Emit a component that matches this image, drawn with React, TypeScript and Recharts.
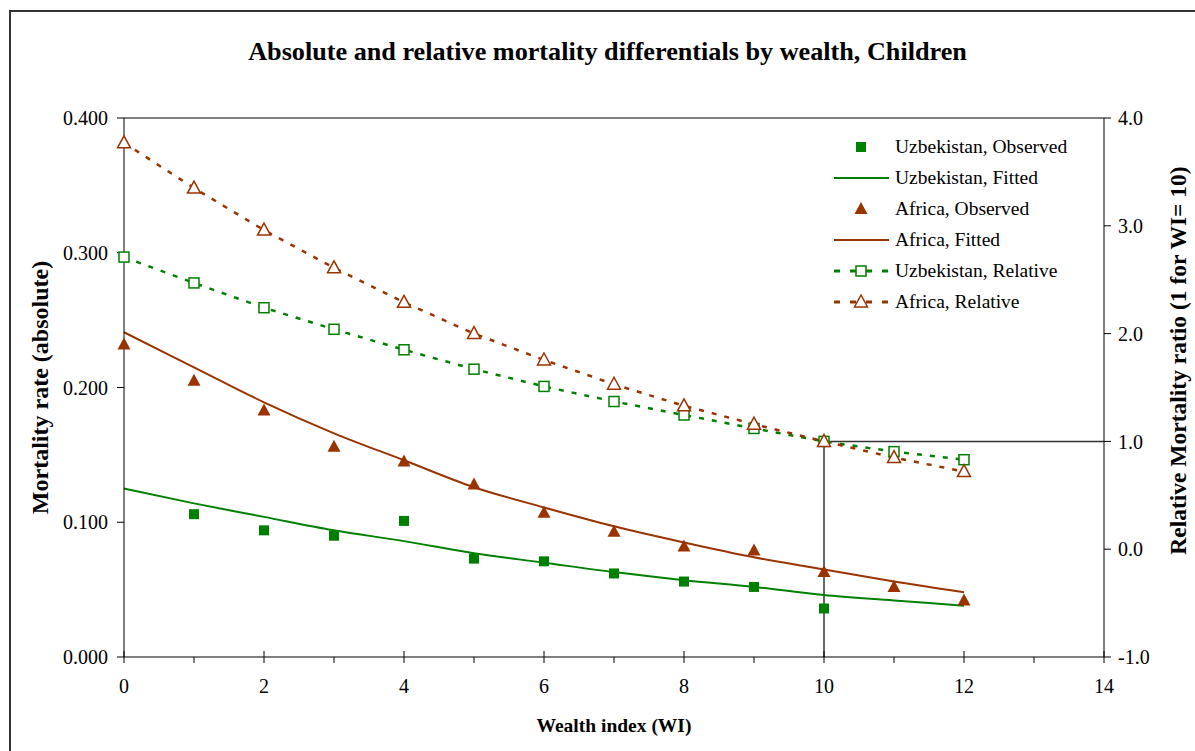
import { ComposedChart, Line, XAxis, YAxis, ReferenceLine, Legend } from "recharts";

const wealthIndex = [0, 1, 2, 3, 4, 5, 6, 7, 8, 9, 10, 11, 12];
const uzbObserved = [null, 0.106, 0.094, 0.09, 0.101, 0.073, 0.071, 0.062, 0.056, 0.052, 0.036, null, null];
const uzbFitted = [0.125, 0.114, 0.104, 0.094, 0.086, 0.077, 0.07, 0.063, 0.057, 0.052, 0.046, 0.042, 0.038];
const afrObserved = [0.232, 0.205, 0.183, 0.156, 0.145, 0.128, 0.107, 0.093, 0.082, 0.079, 0.063, 0.052, 0.042];
const afrFitted = [0.241, 0.215, 0.189, 0.166, 0.146, 0.126, 0.111, 0.097, 0.085, 0.074, 0.065, 0.056, 0.048];
const uzbRelative = [2.71, 2.47, 2.24, 2.04, 1.85, 1.67, 1.51, 1.37, 1.245, 1.12, 1.0, 0.905, 0.83];
const afrRelative = [3.77, 3.35, 2.96, 2.61, 2.29, 2.0, 1.755, 1.53, 1.33, 1.16, 1.0, 0.85, 0.72];

const xTicks = [0, 1, 2, 3, 4, 5, 6, 7, 8, 9, 10, 11, 12, 13, 14];
const leftTicks = [0, 0.1, 0.2, 0.3, 0.4];
const rightTicks = [-1, 0, 1, 2, 3, 4];

const GREEN = "#008000";
const BROWN = "#993300";
const FONT = "'Liberation Serif', 'Times New Roman', serif";

const data = wealthIndex.map((wi, i) => ({
  wi,
  uzbObs: uzbObserved[i],
  uzbFit: uzbFitted[i],
  afrObs: afrObserved[i],
  afrFit: afrFitted[i],
  uzbRel: uzbRelative[i],
  afrRel: afrRelative[i],
}));

const ok = (p: any) => p && typeof p.cx === "number" && typeof p.cy === "number" && p.value != null;

const FilledSquare = (p: any) =>
  ok(p) ? <rect key={p.index} x={p.cx - 5} y={p.cy - 5} width={10} height={10} fill={GREEN} /> : <g key={p.index} />;
const FilledTriangle = (p: any) =>
  ok(p) ? (
    <path key={p.index} d={`M${p.cx},${p.cy - 7} L${p.cx + 6.5},${p.cy + 5} L${p.cx - 6.5},${p.cy + 5} Z`} fill={BROWN} />
  ) : (
    <g key={p.index} />
  );
const OpenSquare = (p: any) =>
  ok(p) ? (
    <rect key={p.index} x={p.cx - 5} y={p.cy - 5} width={10} height={10} fill="#fff" stroke={GREEN} strokeWidth={1.5} />
  ) : (
    <g key={p.index} />
  );
const OpenTriangle = (p: any) =>
  ok(p) ? (
    <path
      key={p.index}
      d={`M${p.cx},${p.cy - 7} L${p.cx + 6.5},${p.cy + 5} L${p.cx - 6.5},${p.cy + 5} Z`}
      fill="#fff"
      stroke={BROWN}
      strokeWidth={1.5}
    />
  ) : (
    <g key={p.index} />
  );

// x axis: minor ticks at odd values, crossing major ticks + labels at even values
const XTick = (props: any) => {
  const { x, y, payload } = props;
  const v = payload.value;
  const major = v % 2 === 0;
  return (
    <g>
      <line x1={x} x2={x} y1={major ? y - 6 : y} y2={y + 6} stroke="#000" strokeWidth={1} />
      {major && (
        <text x={x} y={y + 36} textAnchor="middle" fontSize={20} fill="#000" fontFamily={FONT}>
          {v}
        </text>
      )}
    </g>
  );
};

// rotated axis titles
const axisTitle = (text: string, dxFromLeft: number, dyFromMid: number, size: number) => (props: any) => {
  const vb = props.viewBox || {};
  const cx = vb.x + dxFromLeft;
  const cy = vb.y + vb.height / 2 + dyFromMid;
  return (
    <text
      x={cx}
      y={cy}
      transform={`rotate(-90, ${cx}, ${cy})`}
      textAnchor="middle"
      dominantBaseline="central"
      fontWeight="bold"
      fontSize={size}
      fill="#000"
      fontFamily={FONT}
    >
      {text}
    </text>
  );
};

const legendRows = [
  { label: "Uzbekistan, Observed", kind: "square" },
  { label: "Uzbekistan, Fitted", kind: "greenLine" },
  { label: "Africa, Observed", kind: "triangle" },
  { label: "Africa, Fitted", kind: "brownLine" },
  { label: "Uzbekistan, Relative", kind: "greenRel" },
  { label: "Africa, Relative", kind: "brownRel" },
];

const LegendIcon = ({ kind }: { kind: string }) => {
  const c = 27;
  const m = 10;
  switch (kind) {
    case "square":
      return <rect x={c - 5} y={m - 5} width={10} height={10} fill={GREEN} />;
    case "greenLine":
      return <line x1={0} x2={55} y1={m} y2={m} stroke={GREEN} strokeWidth={2} />;
    case "triangle":
      return <path d={`M${c},${m - 7} L${c + 6.5},${m + 5} L${c - 6.5},${m + 5} Z`} fill={BROWN} />;
    case "brownLine":
      return <line x1={0} x2={55} y1={m} y2={m} stroke={BROWN} strokeWidth={2} />;
    case "greenRel":
      return (
        <g>
          <line x1={0} x2={55} y1={m} y2={m} stroke={GREEN} strokeWidth={3} strokeDasharray="6 10" />
          <rect x={c - 5} y={m - 5} width={10} height={10} fill="#fff" stroke={GREEN} strokeWidth={1.5} />
        </g>
      );
    default:
      return (
        <g>
          <line x1={0} x2={55} y1={m} y2={m} stroke={BROWN} strokeWidth={3} strokeDasharray="6 10" />
          <path
            d={`M${c},${m - 7} L${c + 6.5},${m + 5} L${c - 6.5},${m + 5} Z`}
            fill="#fff"
            stroke={BROWN}
            strokeWidth={1.5}
          />
        </g>
      );
  }
};

const renderLegend = () => (
  <div style={{ fontFamily: FONT, fontSize: 19.5, color: "#000" }}>
    {legendRows.map((r) => (
      <div key={r.label} style={{ display: "flex", alignItems: "center", height: 31 }}>
        <svg width={55} height={20} style={{ marginRight: 6 }}>
          <LegendIcon kind={r.kind} />
        </svg>
        <span>{r.label}</span>
      </div>
    ))}
  </div>
);

export default function App() {
  return (
    <div
      style={{
        position: "absolute",
        left: 0,
        top: 0,
        width: 1195,
        height: 751,
        background: "#fff",
        fontFamily: FONT,
        overflow: "hidden",
      }}
    >
      <div
        style={{
          position: "absolute",
          left: 9,
          top: 10,
          width: 1200,
          height: 760,
          borderTop: "2px solid #333",
          borderLeft: "2px solid #333",
        }}
      />
      <div
        style={{
          position: "absolute",
          left: 0,
          top: 38,
          width: 1215,
          height: 28,
          lineHeight: "28px",
          textAlign: "center",
          fontWeight: "bold",
          fontSize: 26.2,
          color: "#000",
        }}
      >
        Absolute and relative mortality differentials by wealth, Children
      </div>
      <div style={{ position: "absolute", left: 0, top: 0 }}>
        <ComposedChart width={1195} height={751} data={data} margin={{ top: 118, right: 6, bottom: 14, left: 34 }}>
          <XAxis
            dataKey="wi"
            type="number"
            domain={[0, 14]}
            ticks={xTicks}
            interval={0}
            tickLine={false}
            tickSize={0}
            tickMargin={0}
            tick={<XTick />}
            height={80}
            stroke="#000"
            label={{
              value: "Wealth index (WI)",
              position: "insideBottom",
              offset: 5,
              style: { fontWeight: "bold", fontSize: 19.5, fill: "#000", fontFamily: FONT },
            }}
          />
          <YAxis
            yAxisId="left"
            domain={[0, 0.4]}
            ticks={leftTicks}
            width={90}
            stroke="#000"
            tickSize={7}
            tickMargin={9}
            tick={{ fontSize: 20, fill: "#000", fontFamily: FONT }}
            tickFormatter={(v: number) => v.toFixed(3)}
            label={{ content: axisTitle("Mortality rate (absolute)", 6, 0, 24) }}
          />
          <YAxis
            yAxisId="right"
            orientation="right"
            domain={[-1, 4]}
            ticks={rightTicks}
            width={85}
            stroke="#000"
            tickSize={7}
            tickMargin={7}
            tick={{ fontSize: 20, fill: "#000", fontFamily: FONT }}
            tickFormatter={(v: number) => v.toFixed(1)}
            label={{ content: axisTitle("Relative Mortality ratio (1 for WI= 10)", 74, -27, 23.5) }}
          />
          <ReferenceLine yAxisId="left" y={0.4} stroke="#000" strokeWidth={1} />
          <ReferenceLine
            yAxisId="right"
            segment={[
              { x: 10, y: -1 },
              { x: 10, y: 1 },
            ]}
            stroke="#333"
            strokeWidth={1.5}
          />
          <ReferenceLine
            yAxisId="right"
            segment={[
              { x: 10, y: 1 },
              { x: 14, y: 1 },
            ]}
            stroke="#333"
            strokeWidth={1.5}
          />
          <Line
            yAxisId="right"
            dataKey="uzbRel"
            stroke={GREEN}
            strokeWidth={2.5}
            strokeDasharray="5 8"
            type="linear"
            dot={OpenSquare}
            activeDot={false}
            isAnimationActive={false}
          />
          <Line
            yAxisId="right"
            dataKey="afrRel"
            stroke={BROWN}
            strokeWidth={2.5}
            strokeDasharray="5 8"
            type="linear"
            dot={OpenTriangle}
            activeDot={false}
            isAnimationActive={false}
          />
          <Line
            yAxisId="left"
            dataKey="uzbFit"
            stroke={GREEN}
            strokeWidth={2}
            type="monotone"
            dot={false}
            activeDot={false}
            isAnimationActive={false}
          />
          <Line
            yAxisId="left"
            dataKey="afrFit"
            stroke={BROWN}
            strokeWidth={2}
            type="monotone"
            dot={false}
            activeDot={false}
            isAnimationActive={false}
          />
          <Line
            yAxisId="left"
            dataKey="uzbObs"
            stroke="none"
            dot={FilledSquare}
            activeDot={false}
            isAnimationActive={false}
          />
          <Line
            yAxisId="left"
            dataKey="afrObs"
            stroke="none"
            dot={FilledTriangle}
            activeDot={false}
            isAnimationActive={false}
          />
          <Legend
            layout="vertical"
            align="center"
            verticalAlign="middle"
            content={renderLegend}
            wrapperStyle={{ left: 834, top: 131, width: 280 }}
          />
        </ComposedChart>
      </div>
    </div>
  );
}
